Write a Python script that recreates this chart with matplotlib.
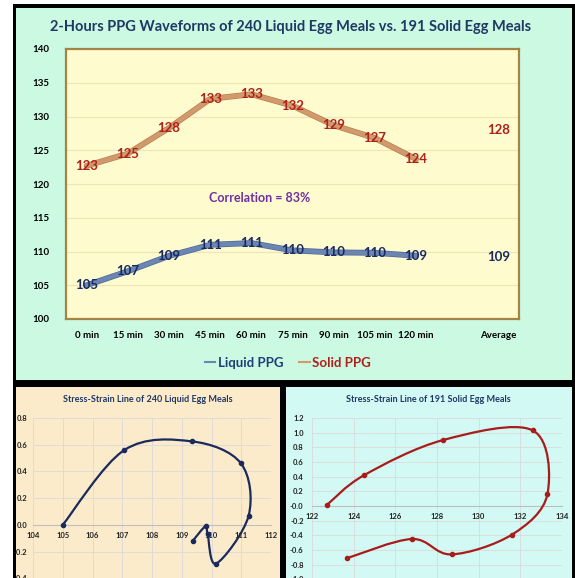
import matplotlib.pyplot as plt
import numpy as np
from matplotlib.patches import Rectangle, PathPatch
from matplotlib.path import Path
from matplotlib.lines import Line2D
import matplotlib.patheffects as pe

plt.rcParams['font.family'] = ['Lato', 'DejaVu Sans']
plt.rcParams['font.weight'] = 'bold'

# Data
times = ["0 min", "15 min", "30 min", "45 min", "60 min", "75 min", "90 min", "105 min", "120 min"]
liquid_ppg = [105.0, 107.07, 109.34, 110.99, 111.25, 110.16, 109.87, 109.8, 109.37]
solid_ppg = [122.7, 124.5, 128.3, 132.6, 133.3, 131.6, 128.7, 126.8, 123.7]
# stress-strain y values
liquid_strain = [0.0, 0.56, 0.625, 0.46, 0.07, -0.29, -0.07, -0.01, -0.12]
solid_strain = [0.01, 0.42, 0.90, 1.03, 0.16, -0.39, -0.66, -0.45, -0.71]
correlation_text = "Correlation = 83%"

W, H = 575, 578
fig = plt.figure(figsize=(W / 100, H / 100), dpi=100)
fig.patch.set_facecolor('white')


def px_rect(x0, y0, x1, y1, color):
    # rectangle in pixel coords (y measured from top)
    fig.patches.append(Rectangle((x0 / W, 1 - y1 / H), (x1 - x0) / W, (y1 - y0) / H,
                                 transform=fig.transFigure, facecolor=color,
                                 edgecolor='none', zorder=-10))


def px_axes(x0, y0, x1, y1):
    return fig.add_axes([x0 / W, 1 - y1 / H, (x1 - x0) / W, (y1 - y0) / H])


# background panels
px_rect(13, 4, 575, 578, 'black')
px_rect(16, 8, 572, 380, '#CBF9E1')
px_rect(16, 387, 280, 578, '#FCEBCB')
px_rect(286, 387, 572, 578, '#D2F9F3')

# ---- top chart ----
ax = px_axes(66, 49, 519, 319)
ax.set_facecolor('#FEFBCF')
xpos = np.arange(len(times))
avg_x = len(times) + 1
liq_avg = np.mean(liquid_ppg)
sol_avg = np.mean(solid_ppg)

ax.plot(xpos, liquid_ppg, color='#6B86B3', lw=3.2, solid_capstyle='round',
        path_effects=[pe.Stroke(linewidth=4.2, foreground='#4C6796'), pe.Normal()], zorder=3)
ax.plot(xpos, solid_ppg, color='#D09A6C', lw=3.2, solid_capstyle='round',
        path_effects=[pe.Stroke(linewidth=4.2, foreground='#B97E50'), pe.Normal()], zorder=3)


def lab(v):
    return str(int(v + 0.5))


for x, v in zip(xpos, liquid_ppg):
    ax.text(x, v, lab(v), ha='center', va='center', fontsize=9.5, color='#1A2A60', zorder=4)
for x, v in zip(xpos, solid_ppg):
    ax.text(x, v, lab(v), ha='center', va='center', fontsize=9.5, color='#B0201A', zorder=4)
ax.text(avg_x, liq_avg, lab(liq_avg), ha='center', va='center', fontsize=9.5, color='#1A2A60')
ax.text(avg_x, sol_avg, lab(sol_avg), ha='center', va='center', fontsize=9.5, color='#B0201A')
ax.text(4.2, 118, correlation_text, ha='center', va='center', fontsize=9, color='#7030A0')

ax.set_xlim(-0.5, avg_x + 0.5)
ax.set_ylim(100, 140)
ax.set_yticks(np.arange(100, 141, 5))
ax.set_xticks(list(xpos) + [avg_x])
ax.set_xticklabels(times + ["Average"])
ax.tick_params(axis='both', length=0, labelsize=7, colors='black')
ax.tick_params(axis='x', pad=9)
ax.tick_params(axis='y', pad=12)
ax.grid(axis='y', color='#EDE5B5', lw=0.8)
ax.set_axisbelow(True)
for s in ax.spines.values():
    s.set_color('#A38445')
    s.set_linewidth(1.6)

fig.text(291 / W, 1 - 27 / H, "2-Hours PPG Waveforms of 240 Liquid Egg Meals vs. 191 Solid Egg Meals",
         ha='center', va='center', fontsize=10.5, color='#1F3864')

handles = [Line2D([], [], color='#6B86B3', lw=1.5), Line2D([], [], color='#D09A6C', lw=1.5)]
fig.legend(handles, ["Liquid PPG", "Solid PPG"], loc='center', bbox_to_anchor=(288 / W, 1 - 363 / H),
           ncol=2, frameon=False, fontsize=9.5, handlelength=0.8, handletextpad=0.2,
           columnspacing=1.2, labelcolor=['#1F3D7A', '#B0201A'])


# ---- stress-strain panels ----
def smooth_path(xs, ys):
    pts = np.column_stack([xs, ys])
    n = len(pts)
    verts = [pts[0]]
    codes = [Path.MOVETO]
    for i in range(n - 1):
        p0 = pts[max(i - 1, 0)]
        p1 = pts[i]
        p2 = pts[i + 1]
        p3 = pts[min(i + 2, n - 1)]
        verts += [p1 + (p2 - p0) / 6, p2 - (p3 - p1) / 6, p2]
        codes += [Path.CURVE4] * 3
    return Path(verts, codes)


def stress_panel(box, xs, ys, color, title, xlim, ylim, yticks, tcx, ypad):
    a = px_axes(*box)
    a.set_facecolor('none')
    a.add_patch(PathPatch(smooth_path(xs, ys), facecolor='none', edgecolor=color, lw=1.6, zorder=3))
    a.plot(xs, ys, 'o', color=color, ms=3, zorder=4)
    a.set_xlim(*xlim)
    a.set_ylim(*ylim)
    a.set_yticks(yticks)
    a.set_yticklabels(["{:.1f}".format(t) for t in yticks])
    a.grid(color='#DADADA', lw=0.6)
    a.set_axisbelow(True)
    for k in ['top', 'right', 'left']:
        a.spines[k].set_visible(False)
    a.spines['bottom'].set_position(('data', 0))
    a.spines['bottom'].set_color('#BFBFBF')
    a.spines['bottom'].set_linewidth(0.8)
    a.tick_params(axis='both', length=0, labelsize=5.5, colors='#222222')
    a.tick_params(axis='y', pad=ypad)
    a.tick_params(axis='x', pad=5)
    fig.text(tcx / W, 1 - 400 / H, title, ha='center', va='center', fontsize=6.5, color='#1F3864')
    return a


stress_panel((33, 418, 271, 605), liquid_ppg, liquid_strain, '#1B2A5C',
             "Stress-Strain Line of 240 Liquid Egg Meals", (104, 112), (-0.6, 0.8),
             np.round(np.arange(-0.6, 0.81, 0.2), 1), 148, 4)
ax_s = stress_panel((312, 418, 562, 594), solid_ppg, solid_strain, '#A81C1C',
                    "Stress-Strain Line of 191 Solid Egg Meals", (122, 134), (-1.2, 1.2),
                    np.round(np.arange(-1.2, 1.21, 0.2), 1), 428, 6)
ax_s.set_xticks(np.arange(122, 135, 2))

fig.savefig("out.png", dpi=100)
